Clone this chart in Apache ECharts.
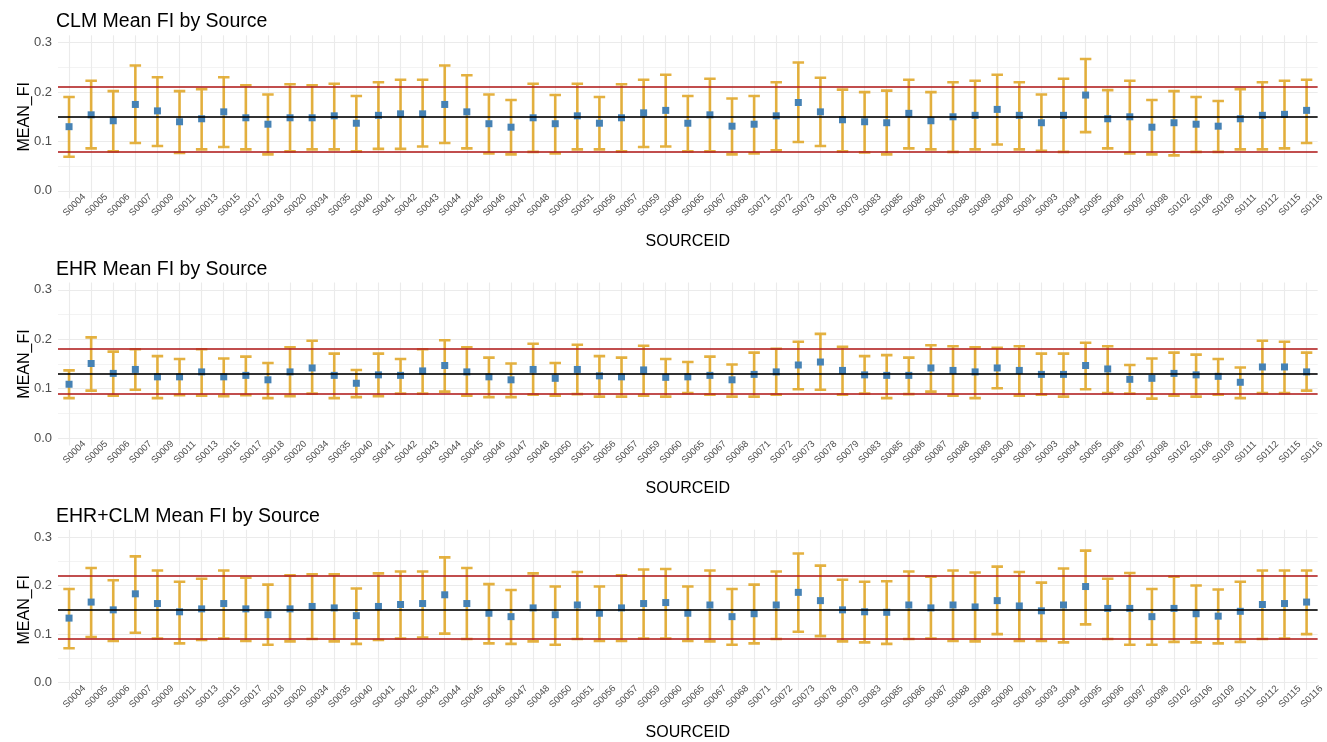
<!DOCTYPE html>
<html>
<head>
<meta charset="utf-8">
<script src="https://cdn.jsdelivr.net/npm/echarts@6/dist/echarts.min.js"></script>
<style>
html,body{margin:0;padding:0;background:#fff;}
#chart{width:1327px;height:742px;}
</style>
</head>
<body>
<div id="chart"></div>
<script>
const categories = ["S0004","S0005","S0006","S0007","S0009","S0011","S0013","S0015","S0017","S0018","S0020","S0034","S0035","S0040","S0041","S0042","S0043","S0044","S0045","S0046","S0047","S0048","S0050","S0051","S0056","S0057","S0059","S0060","S0065","S0067","S0068","S0071","S0072","S0073","S0078","S0079","S0083","S0085","S0086","S0087","S0088","S0089","S0090","S0091","S0093","S0094","S0095","S0096","S0097","S0098","S0102","S0106","S0109","S0111","S0112","S0115","S0116"];

const panelTitles = ["CLM Mean FI by Source", "EHR Mean FI by Source", "EHR+CLM Mean FI by Source"];
const yTickLabels = [0, 0.1, 0.2, 0.3];
const yMinorTicks = [0.05, 0.15, 0.25];

// CLM
const clmMean = [0.130,0.154,0.142,0.175,0.162,0.140,0.146,0.160,0.148,0.135,0.148,0.148,0.152,0.137,0.153,0.156,0.156,0.175,0.160,0.136,0.129,0.148,0.136,0.152,0.137,0.148,0.158,0.163,0.137,0.154,0.131,0.135,0.152,0.179,0.160,0.144,0.140,0.138,0.157,0.142,0.150,0.153,0.165,0.153,0.138,0.153,0.194,0.146,0.150,0.129,0.138,0.135,0.131,0.146,0.153,0.155,0.163];
const clmUpper = [0.190,0.223,0.202,0.254,0.230,0.202,0.206,0.230,0.214,0.195,0.216,0.214,0.217,0.192,0.220,0.225,0.225,0.254,0.234,0.195,0.184,0.217,0.194,0.217,0.190,0.216,0.225,0.235,0.192,0.227,0.187,0.192,0.220,0.260,0.229,0.205,0.200,0.203,0.225,0.200,0.220,0.223,0.235,0.220,0.195,0.227,0.267,0.204,0.223,0.184,0.202,0.190,0.182,0.206,0.220,0.223,0.225];
const clmLower = [0.069,0.086,0.080,0.097,0.091,0.077,0.084,0.089,0.084,0.074,0.080,0.084,0.084,0.080,0.085,0.085,0.090,0.097,0.086,0.076,0.074,0.079,0.076,0.084,0.084,0.080,0.089,0.090,0.080,0.080,0.074,0.076,0.082,0.099,0.091,0.080,0.078,0.074,0.086,0.084,0.079,0.084,0.094,0.084,0.081,0.079,0.119,0.086,0.076,0.074,0.072,0.079,0.079,0.084,0.084,0.086,0.097];
const clmRef = [0.148, 0.2130, 0.0830]; // overall mean, upper, lower

// EHR
const ehrMean = [0.109,0.151,0.131,0.139,0.124,0.124,0.134,0.124,0.127,0.118,0.134,0.142,0.127,0.111,0.128,0.127,0.136,0.147,0.134,0.124,0.118,0.139,0.121,0.139,0.126,0.124,0.138,0.123,0.124,0.127,0.118,0.129,0.134,0.148,0.154,0.137,0.128,0.127,0.127,0.142,0.137,0.134,0.142,0.137,0.129,0.129,0.147,0.140,0.119,0.121,0.131,0.128,0.125,0.113,0.144,0.144,0.134];
const ehrUpper = [0.137,0.204,0.175,0.180,0.166,0.160,0.180,0.161,0.165,0.152,0.184,0.197,0.171,0.138,0.171,0.160,0.180,0.198,0.184,0.163,0.151,0.191,0.152,0.189,0.166,0.163,0.187,0.160,0.154,0.165,0.149,0.173,0.181,0.195,0.211,0.185,0.166,0.168,0.163,0.188,0.186,0.184,0.183,0.186,0.171,0.171,0.193,0.186,0.148,0.161,0.173,0.169,0.160,0.143,0.197,0.195,0.173];
const ehrLower = [0.081,0.096,0.086,0.098,0.081,0.087,0.086,0.085,0.087,0.081,0.085,0.090,0.081,0.083,0.085,0.090,0.090,0.094,0.086,0.083,0.083,0.088,0.086,0.089,0.084,0.084,0.086,0.084,0.091,0.088,0.084,0.084,0.088,0.099,0.098,0.088,0.090,0.081,0.089,0.094,0.086,0.081,0.101,0.086,0.088,0.084,0.099,0.091,0.090,0.080,0.086,0.084,0.088,0.081,0.091,0.091,0.096];
const ehrRef = [0.1335, 0.179, 0.087];

// EHR+CLM
const bothMean = [0.133,0.166,0.150,0.183,0.163,0.146,0.152,0.163,0.152,0.140,0.152,0.157,0.154,0.138,0.157,0.161,0.163,0.181,0.163,0.143,0.136,0.154,0.140,0.160,0.143,0.154,0.163,0.165,0.143,0.160,0.136,0.142,0.160,0.186,0.169,0.150,0.146,0.145,0.160,0.154,0.160,0.156,0.169,0.158,0.148,0.160,0.198,0.153,0.153,0.136,0.153,0.142,0.137,0.147,0.161,0.163,0.166];
const bothUpper = [0.193,0.236,0.211,0.260,0.231,0.208,0.214,0.231,0.216,0.202,0.221,0.223,0.223,0.194,0.225,0.229,0.229,0.258,0.236,0.203,0.191,0.225,0.198,0.228,0.198,0.221,0.233,0.234,0.198,0.231,0.193,0.202,0.229,0.266,0.241,0.212,0.208,0.209,0.229,0.218,0.231,0.227,0.239,0.228,0.206,0.235,0.272,0.214,0.226,0.193,0.218,0.200,0.192,0.208,0.231,0.231,0.231];
const bothLower = [0.071,0.094,0.086,0.103,0.091,0.081,0.088,0.091,0.086,0.078,0.085,0.090,0.085,0.080,0.088,0.091,0.093,0.101,0.090,0.081,0.080,0.085,0.078,0.090,0.086,0.086,0.091,0.091,0.086,0.085,0.078,0.081,0.090,0.105,0.096,0.085,0.083,0.080,0.090,0.091,0.086,0.085,0.100,0.086,0.086,0.083,0.120,0.090,0.078,0.078,0.084,0.083,0.081,0.084,0.090,0.091,0.100];
const bothRef = [0.155, 0.223, 0.0877];

const panels = [
  {mean: clmMean, upper: clmUpper, lower: clmLower, ref: clmRef},
  {mean: ehrMean, upper: ehrUpper, lower: ehrLower, ref: ehrRef},
  {mean: bothMean, upper: bothUpper, lower: bothLower, ref: bothRef}
];

const chart = echarts.init(document.getElementById('chart'), null, {renderer: 'canvas'});

const OFF = 247.2;
const GRID_TOP = 35.3, GRID_H = 163, GRID_LEFT = 58, GRID_RIGHT = 7;
const GRID_COLOR = '#ebebeb';
const ERR_COLOR = 'rgba(222,160,22,0.82)';

function errRender(params, api) {
  const x = api.value(0);
  const lo = api.coord([x, api.value(1)]);
  const hi = api.coord([x, api.value(2)]);
  const hw = api.size([1, 0])[0] * 0.26;
  const d = 'M' + lo[0] + ' ' + lo[1] + 'L' + hi[0] + ' ' + hi[1] +
            'M' + (hi[0] - hw) + ' ' + hi[1] + 'L' + (hi[0] + hw) + ' ' + hi[1] +
            'M' + (lo[0] - hw) + ' ' + lo[1] + 'L' + (lo[0] + hw) + ' ' + lo[1];
  return {
    type: 'path',
    shape: {pathData: d},
    style: {stroke: ERR_COLOR, lineWidth: 2.6, fill: null, lineCap: 'butt'}
  };
}

const title = [], grid = [], xAxis = [], yAxis = [], series = [];
panels.forEach((p, i) => {
  const off = i * OFF;
  title.push({
    text: panelTitles[i], left: 51, top: 7 + off,
    textStyle: {fontFamily: 'Liberation Sans, Arial, sans-serif', fontSize: 19.5, fontWeight: 'normal', color: '#000'}
  });
  grid.push({left: GRID_LEFT, right: GRID_RIGHT, top: GRID_TOP + off, height: GRID_H, containLabel: false});
  xAxis.push({
    type: 'category', gridIndex: i, data: categories, boundaryGap: true,
    axisLine: {show: false}, axisTick: {show: false}, splitLine: {show: false},
    axisLabel: {
      interval: 0, rotate: 45, align: 'center', verticalAlign: 'middle',
      margin: 12, padding: [0, 0, 0, 15], hideOverlap: false,
      fontFamily: 'Liberation Sans, Arial, sans-serif', fontSize: 9.5, color: '#4d4d4d'
    },
    name: 'SOURCEID', nameLocation: 'middle', nameGap: 35, nameMoveOverlap: false,
    nameTextStyle: {fontFamily: 'Liberation Sans, Arial, sans-serif', fontSize: 16, color: '#000'}
  });
  yAxis.push({
    type: 'value', gridIndex: i, min: -0.015, max: 0.315,
    axisLine: {show: false}, axisTick: {show: false}, splitLine: {show: false},
    axisLabel: {
      customValues: yTickLabels, margin: 6,
      formatter: v => v.toFixed(1),
      fontFamily: 'Liberation Sans, Arial, sans-serif', fontSize: 13, color: '#4d4d4d'
    },
    name: 'MEAN_FI', nameLocation: 'middle', nameGap: 25, nameRotate: 90, nameMoveOverlap: false,
    nameTextStyle: {fontFamily: 'Liberation Sans, Arial, sans-serif', fontSize: 16, color: '#000'}
  });

  // grid lines (background)
  const gridLines = [];
  yTickLabels.forEach(v => gridLines.push({yAxis: v, lineStyle: {color: GRID_COLOR, width: 1.1}}));
  yMinorTicks.forEach(v => gridLines.push({yAxis: v, lineStyle: {color: GRID_COLOR, width: 0.6}}));
  categories.forEach(c => gridLines.push({xAxis: c, lineStyle: {color: GRID_COLOR, width: 1.1}}));
  series.push({
    type: 'line', xAxisIndex: i, yAxisIndex: i, data: [], z: 0, silent: true,
    markLine: {
      z: 0, silent: true, symbol: ['none', 'none'], animation: false,
      label: {show: false}, emphasis: {disabled: true},
      lineStyle: {type: 'solid'},
      data: gridLines
    }
  });

  series.push({
    type: 'custom', xAxisIndex: i, yAxisIndex: i, z: 2, silent: true,
    renderItem: errRender, animation: false,
    data: categories.map((c, k) => [k, p.lower[k], p.upper[k]])
  });
  series.push({
    type: 'scatter', xAxisIndex: i, yAxisIndex: i, z: 3, silent: true,
    symbol: 'rect', symbolSize: 7, animation: false,
    itemStyle: {color: '#4682b4', opacity: 1},
    data: p.mean
  });
  series.push({
    type: 'line', xAxisIndex: i, yAxisIndex: i, data: [], z: 4, silent: true,
    markLine: {
      z: 4, silent: true, symbol: ['none', 'none'], animation: false,
      label: {show: false}, emphasis: {disabled: true},
      data: [
        {yAxis: p.ref[0], lineStyle: {type: 'solid', color: 'rgba(0,0,0,0.8)', width: 1.8}},
        {yAxis: p.ref[1], lineStyle: {type: 'solid', color: 'rgba(178,34,34,0.8)', width: 1.8}},
        {yAxis: p.ref[2], lineStyle: {type: 'solid', color: 'rgba(178,34,34,0.8)', width: 1.8}}
      ]
    }
  });
});

chart.setOption({
  backgroundColor: '#ffffff',
  animation: false,
  title, grid, xAxis, yAxis, series
});
</script>
</body>
</html>
